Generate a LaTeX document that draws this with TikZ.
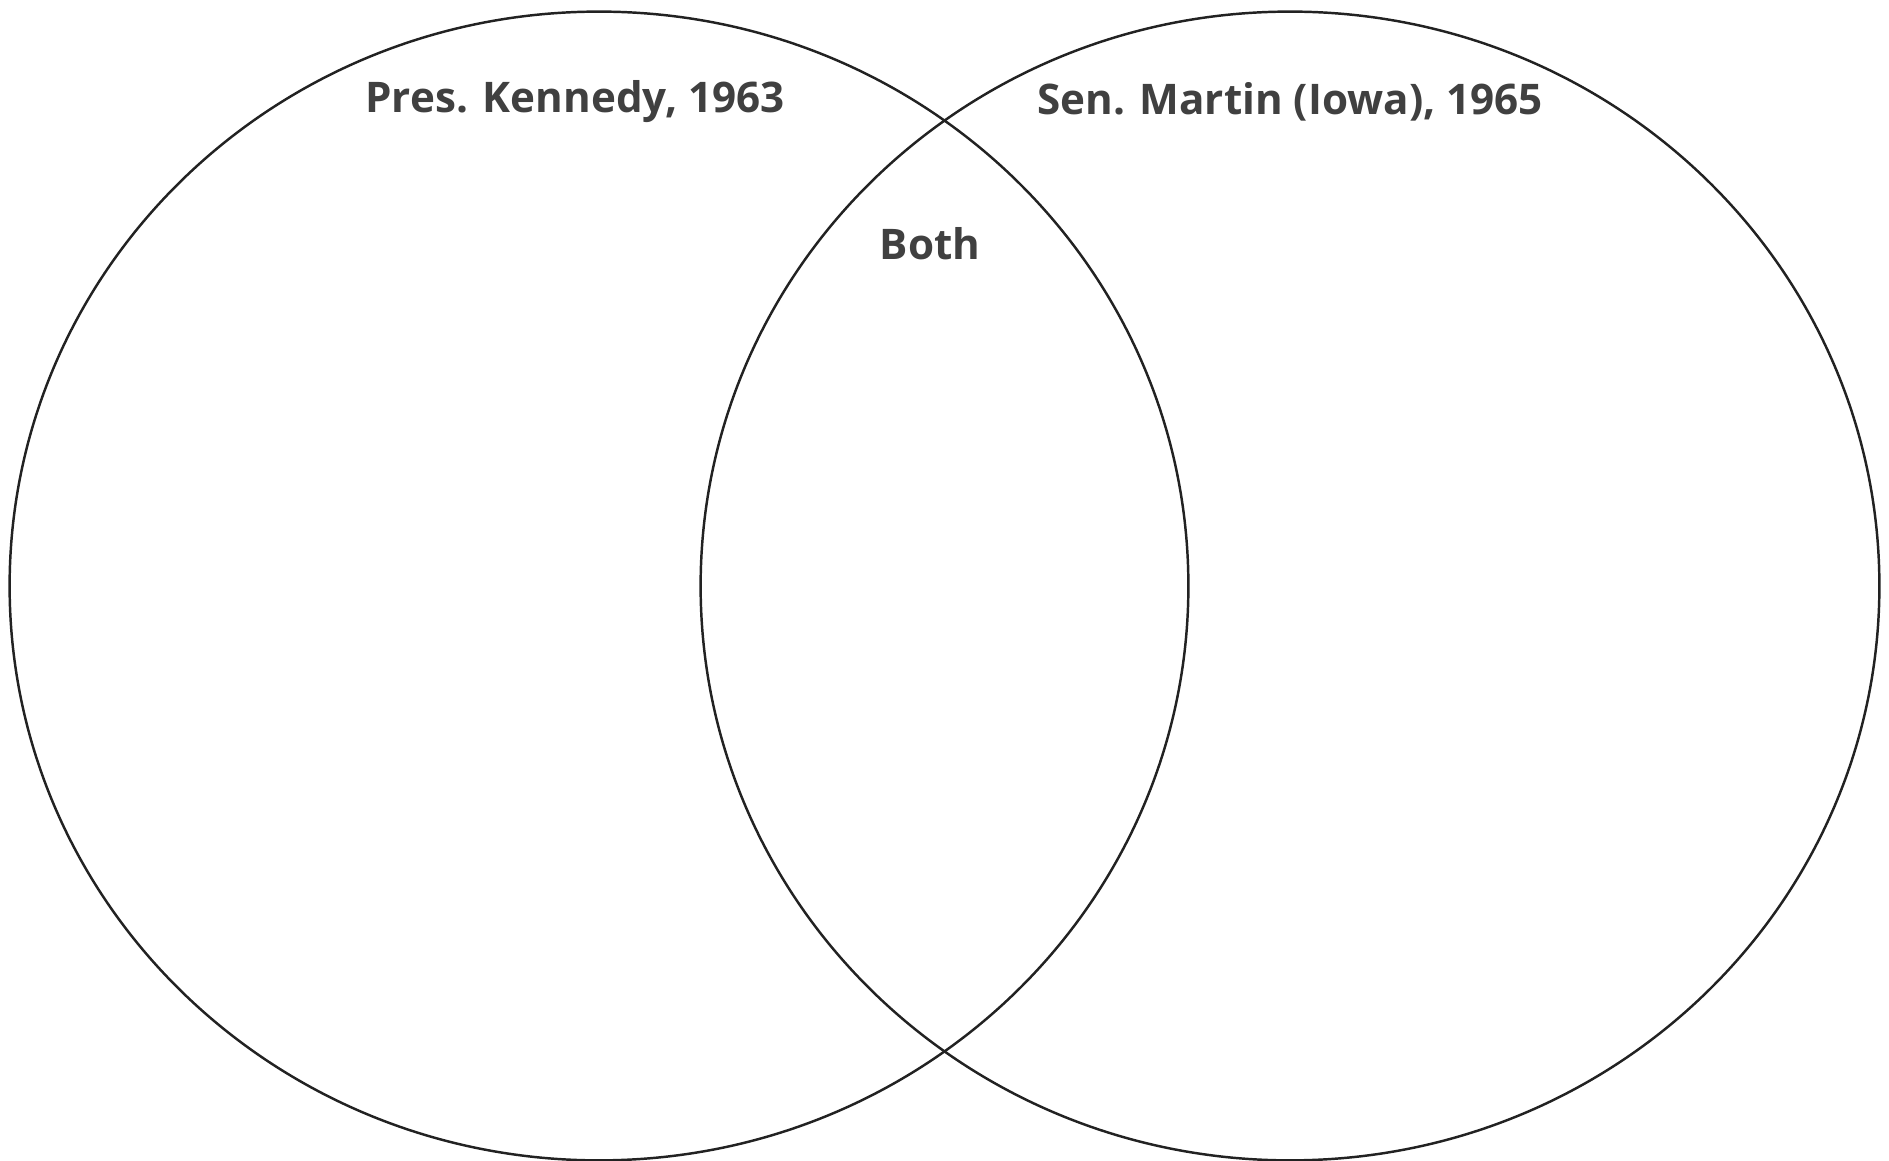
\documentclass[tikz,border=0pt]{standalone}
\usepackage{fontspec}
\setmainfont{Open Sans}
\usepackage{tikz}
\usetikzlibrary{shapes.geometric,positioning}
\definecolor{VennLine}{HTML}{222222}
\definecolor{VennText}{HTML}{404040}

\begin{document}
\begin{tikzpicture}[x=0.02cm, y=0.02cm, every node/.style={font=\fontsize{24}{28}\selectfont\bfseries, text=VennText}, set/.style={ellipse, draw=VennLine, line width=1.4pt, inner sep=0pt, minimum width=23.58cm, minimum height=22.98cm}]
\useasboundingbox (0,0) rectangle (1889,1160);
\node[set] (kennedy) at (599,574) {};
\node[set] (martin) at (1290,574) {};
\node (kl) at (575,1058) {Pres. Kennedy, 1963};
\node (ml) at (1290,1058) {Sen. Martin (Iowa), 1965};
\node (both) at (930,916) {Both};
\end{tikzpicture}
\end{document}
